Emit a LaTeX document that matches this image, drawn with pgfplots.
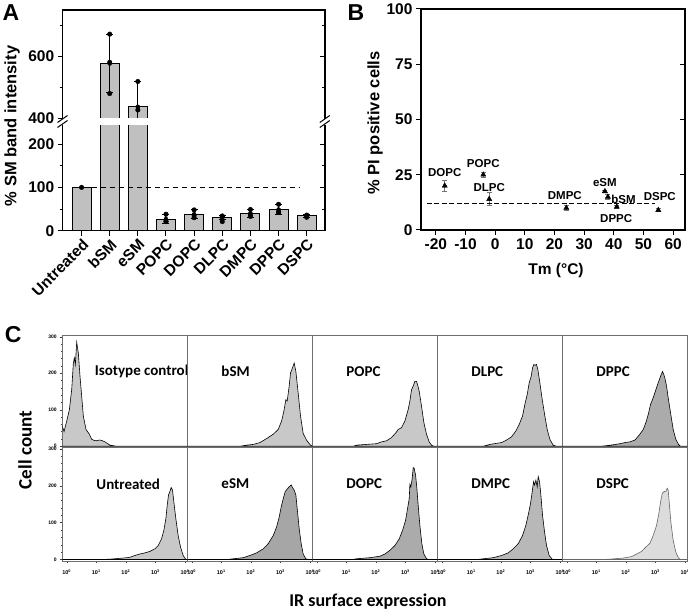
\documentclass[border=0pt]{standalone}
\usepackage{pgfplots}
\pgfplotsset{compat=1.18}
\usepackage{fontspec}
\setmainfont{Liberation Sans}
\newfontfamily\calfont{Carlito}
\newcommand{\fs}[1]{\fontsize{#1}{#1}\selectfont}
\definecolor{barg}{RGB}{192,192,192}
\definecolor{hA}{RGB}{200,200,200}
\definecolor{hB}{RGB}{166,166,166}
\definecolor{hC}{RGB}{171,171,171}
\definecolor{hD}{RGB}{184,184,184}
\definecolor{hE}{RGB}{220,220,220}
\definecolor{cgrid}{RGB}{110,110,110}
\tikzset{lab/.style={anchor=west, font=\calfont\bfseries\fs{15}}}
\pgfplotsset{
  /pgf/number format/assume math mode=true,
  Abase/.style={scale only axis, anchor=south west, width=262.3pt, xmin=-0.67, xmax=8.65,
    axis line style={draw=none},
    tick label style={font=\bfseries\fs{15.5}},
    major tick length=5pt, minor tick length=3pt, tick style={black, line width=1pt}},
  Aup/.style={Abase, at={(62.7pt,495.7pt)}, height=108.3pt, ymin=400, ymax=750, ytick={400,600}, minor ytick={500,700}, xtick=\empty},
  Alow/.style={Abase, at={(62.7pt,383.3pt)}, height=105.7pt, ymin=0, ymax=244, ytick={0,100,200}, minor ytick={50,150}},
  Bbase/.style={scale only axis, anchor=south west, at={(421pt,384pt)}, width=264pt, height=221pt,
    xmin=-25, xmax=64, ymin=0, ymax=100, xtick={-20,-10,...,60}, ytick={0,25,50,75,100},
    axis line style={line width=1.2pt},
    tick label style={font=\bfseries\fs{15.5}},
    major tick length=5pt, tick style={black, line width=1pt}},
  cell/.style={scale only axis, anchor=south west, width=125pt, xmin=-0.15, xmax=4.08, ymin=-4, ymax=303,
    axis line style={draw=cgrid, line width=0.7pt}, xtick=\empty, ytick=\empty,
    tick pos=left, tick align=outside, major tick length=2pt, minor tick length=1.2pt,
    tick style={black!75, line width=0.4pt}},
  leftcol/.style={ytick={0,100,200,300}, minor ytick={20,40,60,80,120,140,160,180,220,240,260,280},
    yticklabel style={font=\bfseries\fs{5}}},
  botrow/.style={xtick={0,1,2,3,4},
    xticklabels={10\textsuperscript{0},10\textsuperscript{1},10\textsuperscript{2},10\textsuperscript{3},10\textsuperscript{4}},
    minor xtick={0.301,0.477,0.602,0.699,0.778,0.845,0.903,0.954,1.301,1.477,1.602,1.699,1.778,1.845,1.903,1.954,2.301,2.477,2.602,2.699,2.778,2.845,2.903,2.954,3.301,3.477,3.602,3.699,3.778,3.845,3.903,3.954},
    xticklabel style={font=\bfseries\fs{5.5}, yshift=-3pt}},
}
\begin{document}
\begin{tikzpicture}[x=1pt,y=1pt]
\useasboundingbox (0,0) rectangle (688,614);
% ---------------- Panel A ----------------
\begin{axis}[Aup, tick pos=left, tick align=outside]
\addplot[ybar, bar width=19pt, fill=barg, draw=black, line width=1pt] coordinates {(1,577) (2,437)};
\addplot[only marks, mark=none, error bars/.cd, y dir=both, y explicit, error bar style={black, line width=1pt}, error mark options={rotate=90, black, mark size=3.5pt, line width=1pt}]
  coordinates {(1,577) +- (0,95) (2,437) +- (0,82)};
\addplot[only marks, mark=*, mark size=2.3pt, black] coordinates {(1,672) (1,581) (1,480) (2,519) (2,427) (2,365)};
\end{axis}
\begin{axis}[Aup, yticklabels={}, tick pos=right, tick align=inside]
\end{axis}
\begin{axis}[Alow, tick pos=left, tick align=outside, xtick={0,...,8},
  xticklabels={Untreated,bSM,eSM,POPC,DOPC,DLPC,DMPC,DPPC,DSPC},
  x tick label style={rotate=45, anchor=north east, inner sep=1.5pt, font=\bfseries\fs{15.5}}]
\addplot[ybar, bar width=19pt, fill=barg, draw=black, line width=1pt] coordinates {(0,100) (1,577) (2,437) (3,27) (4,38) (5,30) (6,40) (7,49) (8,34)};
\addplot[dashed, dash pattern=on 5pt off 4pt, black, line width=0.9pt] coordinates {(0.36,100) (7.75,100)};
\addplot[only marks, mark=none, error bars/.cd, y dir=both, y explicit, error bar style={black, line width=1pt}, error mark options={rotate=90, black, mark size=3.5pt, line width=1pt}]
  coordinates {(1,577) +- (0,95) (2,437) +- (0,82) (3,27) +- (0,11) (4,38) +- (0,10) (5,30) +- (0,5) (6,40) +- (0,9) (7,49) +- (0,12) (8,34) +- (0,3)};
\addplot[only marks, mark=*, mark size=2.3pt, black] coordinates {(0,100) (3,38) (3,22) (3,21) (4,48) (4,36) (4,30) (5,34) (5,33) (5,21) (6,49) (6,38) (6,33) (7,61) (7,44) (7,42) (8,36) (8,34) (8,31)};
\end{axis}
\begin{axis}[Alow, yticklabels={}, xtick=\empty, tick pos=right, tick align=inside]
\end{axis}
\fill[white] (63.4,489.3) rectangle (324.3,496.4);
\draw[line width=1.2pt] (62.7,495.7) -- (62.7,604) -- (325,604) -- (325,495.7);
\draw[line width=1.2pt] (62.7,489) -- (62.7,383.3) -- (325,383.3) -- (325,489);
\draw[line width=1pt] (57.5,486.5) -- (67.5,493.5) (57.5,491.5) -- (67.5,498.5);
\draw[line width=1pt] (319.8,486.5) -- (329.8,493.5) (319.8,491.5) -- (329.8,498.5);
\node[rotate=90, font=\bfseries\fs{16.5}] at (12,488) {\% SM band intensity};
\node[font=\bfseries\fs{23}] at (11,601) {A};
% ---------------- Panel B ----------------
\begin{axis}[Bbase, tick pos=left, tick align=outside]
\addplot[only marks, mark=triangle*, mark size=3pt, black, error bars/.cd, y dir=both, y explicit, error bar style={black!55, line width=0.6pt}, error mark options={rotate=90, black!55, mark size=2.5pt, line width=0.6pt}]
  coordinates {(-17,20) +- (0,2.5) (-4,25) +- (0,1) (-2,14) +- (0,3) (24,10) +- (0,1) (37,17.5) +- (0,0.6) (38,15) +- (0,1) (41,10.5) +- (0,0.6) (55,9) +- (0,0.6)};
\addplot[dashed, dash pattern=on 5pt off 2.5pt, black, line width=0.9pt] coordinates {(-23,11.8) (54,11.8)};
\node[font=\bfseries\fs{11.5}] at (axis cs:-17,25.8) {DOPC};
\node[font=\bfseries\fs{11.5}] at (axis cs:-4,30.2) {POPC};
\node[font=\bfseries\fs{11.5}] at (axis cs:-2,19.2) {DLPC};
\node[font=\bfseries\fs{11.5}] at (axis cs:23.5,15.5) {DMPC};
\node[font=\bfseries\fs{11.5}] at (axis cs:37,21.6) {eSM};
\node[font=\bfseries\fs{11.5}] at (axis cs:43.3,14) {bSM};
\node[font=\bfseries\fs{11.5}] at (axis cs:40.8,5.2) {DPPC};
\node[font=\bfseries\fs{11.5}] at (axis cs:55.5,15.2) {DSPC};
\end{axis}
\begin{axis}[Bbase, xtick=\empty, yticklabels={}, tick pos=right, tick align=inside]
\end{axis}
\node[rotate=90, font=\bfseries\fs{16.5}] at (375,491) {\% PI positive cells};
\node[font=\bfseries\fs{15.5}] at (556,344) {Tm (°C)};
\node[font=\bfseries\fs{23}] at (356,601) {B};
% ---------------- Panel C ----------------
% top row
\begin{axis}[cell, leftcol, at={(62.3pt,166.3pt)}, height=112pt]
\addplot[fill=hA, draw=black, line width=0.6pt] table {
-0.15 55
-0.09 40
0.0 69
0.089 100
0.168 155
0.224 228
0.258 242
0.292 224
0.337 285
0.393 255
0.449 192
0.506 137
0.562 83
0.652 46
0.765 33
0.844 19
0.93 16
1.012 15
1.10 17
1.18 16
1.294 12
1.463 3
1.689 0
4.08 0
} \closedcycle;
\node[lab] at (rel axis cs:0.232,0.68) {Isotype control};
\end{axis}
\begin{axis}[cell, at={(187.3pt,166.3pt)}, height=112pt]
\addplot[fill=hA, draw=black, line width=0.6pt] table {
-0.15 0
1.63 0
1.857 3
2.082 5
2.307 10
2.533 21
2.758 33
2.927 46
3.04 69
3.118 96
3.186 128
3.231 124
3.298 165
3.344 201
3.411 215
3.467 228
3.524 205
3.602 146
3.681 83
3.771 35
3.884 17
3.997 5
4.08 0
} \closedcycle;
\node[lab] at (rel axis cs:0.245,0.68) {bSM};
\end{axis}
\begin{axis}[cell, at={(312.3pt,166.3pt)}, height=112pt]
\addplot[fill=hA, draw=black, line width=0.6pt] table {
-0.15 0
1.238 0
1.350 3
1.688 5
2.026 7
2.195 12
2.364 15
2.533 24
2.679 37
2.758 46
2.871 51
2.983 69
3.096 101
3.152 124
3.208 155
3.265 165
3.321 178
3.377 178
3.411 169
3.467 151
3.546 110
3.625 65
3.715 33
3.805 12
3.884 3
3.963 0
4.08 0
} \closedcycle;
\node[lab] at (rel axis cs:0.245,0.68) {POPC};
\end{axis}
\begin{axis}[cell, at={(437.3pt,166.3pt)}, height=112pt]
\addplot[fill=barg, draw=black, line width=0.6pt] table {
-0.15 0
1.406 0
1.632 5
1.857 8
2.026 10
2.195 17
2.364 26
2.510 42
2.623 60
2.735 83
2.814 115
2.893 142
2.960 174
3.028 192
3.073 215
3.118 224
3.163 222
3.208 224
3.253 210
3.321 174
3.400 128
3.490 83
3.569 46
3.659 19
3.771 3
3.884 0
4.08 0
} \closedcycle;
\node[lab] at (rel axis cs:0.245,0.68) {DLPC};
\end{axis}
\begin{axis}[cell, at={(562.3pt,166.3pt)}, height=112pt]
\addplot[fill=hC, draw=black, line width=0.6pt] table {
-0.15 0
1.125 0
1.294 1
1.575 4
1.801 7
1.970 10
2.139 12
2.307 17
2.476 33
2.589 46
2.679 65
2.758 87
2.837 115
2.927 133
3.017 155
3.096 174
3.175 192
3.242 205
3.287 196
3.321 187
3.377 165
3.433 133
3.512 92
3.602 46
3.692 19
3.782 5
3.850 0
4.08 0
} \closedcycle;
\node[lab] at (rel axis cs:0.245,0.68) {DPPC};
\end{axis}
% bottom row
\begin{axis}[cell, leftcol, botrow, at={(62.3pt,53pt)}, height=113.3pt]
\addplot[fill=hA, draw=black, line width=0.6pt] table {
-0.15 0
1.2 0
1.463 1
1.913 4
2.139 6
2.307 11
2.476 15
2.645 18
2.814 22
2.983 29
3.096 38
3.208 56
3.287 79
3.355 111
3.400 147
3.445 175
3.490 184
3.535 195
3.580 188
3.625 156
3.692 111
3.771 65
3.850 34
3.940 11
4.03 0
4.08 0
} \closedcycle;
\node[lab] at (rel axis cs:0.245,0.68) {Untreated};
\end{axis}
\begin{axis}[cell, botrow, at={(187.3pt,53pt)}, height=113.3pt]
\addplot[fill=hB, draw=black, line width=0.6pt] table {
-0.15 0
1.2 0
1.406 2
1.744 5
1.970 11
2.195 18
2.420 29
2.589 43
2.758 65
2.871 88
2.960 115
3.028 143
3.096 165
3.163 184
3.231 191
3.298 197
3.366 202
3.411 195
3.467 188
3.524 175
3.580 129
3.636 84
3.704 43
3.771 15
3.862 2
3.940 0
4.08 0
} \closedcycle;
\node[lab] at (rel axis cs:0.245,0.68) {eSM};
\end{axis}
\begin{axis}[cell, botrow, at={(312.3pt,53pt)}, height=113.3pt]
\addplot[fill=hC, draw=black, line width=0.6pt] table {
-0.15 0
1.2 0
1.350 2
1.801 5
2.139 9
2.307 15
2.476 25
2.645 38
2.792 56
2.904 79
3.006 106
3.073 138
3.130 165
3.152 204
3.186 197
3.231 220
3.265 249
3.298 247
3.344 229
3.389 193
3.433 147
3.490 93
3.557 43
3.625 15
3.715 2
3.805 0
4.08 0
} \closedcycle;
\node[lab] at (rel axis cs:0.245,0.68) {DOPC};
\end{axis}
\begin{axis}[cell, botrow, at={(437.3pt,53pt)}, height=113.3pt]
\addplot[fill=hD, draw=black, line width=0.6pt] table {
-0.15 0
1.2 0
1.406 2
1.744 5
2.026 11
2.251 18
2.420 29
2.589 43
2.735 65
2.848 93
2.938 125
3.006 152
3.062 184
3.107 211
3.141 202
3.186 215
3.231 197
3.265 225
3.310 211
3.355 175
3.411 120
3.479 75
3.546 38
3.636 11
3.749 0
4.08 0
} \closedcycle;
\node[lab] at (rel axis cs:0.245,0.68) {DMPC};
\end{axis}
\begin{axis}[cell, botrow, at={(562.3pt,53pt)}, height=113.3pt]
\addplot[fill=hE, draw=black!60, line width=0.6pt] table {
-0.15 0
1.2 0
1.463 1
1.913 4
2.195 8
2.364 15
2.533 22
2.679 34
2.814 44
2.927 65
3.040 93
3.118 125
3.175 156
3.231 179
3.287 184
3.355 185
3.400 193
3.433 188
3.467 156
3.523 102
3.602 52
3.692 20
3.782 4
3.850 0
4.08 0
} \closedcycle;
\node[lab] at (rel axis cs:0.245,0.68) {DSPC};
\end{axis}
\node[rotate=90, font=\calfont\bfseries\fs{19}] at (25,164) {Cell count};
\node[font=\calfont\bfseries\fs{18}] at (368,12.5) {IR surface expression};
\node[font=\bfseries\fs{23}] at (13.3,279) {C};
\end{tikzpicture}
\end{document}
